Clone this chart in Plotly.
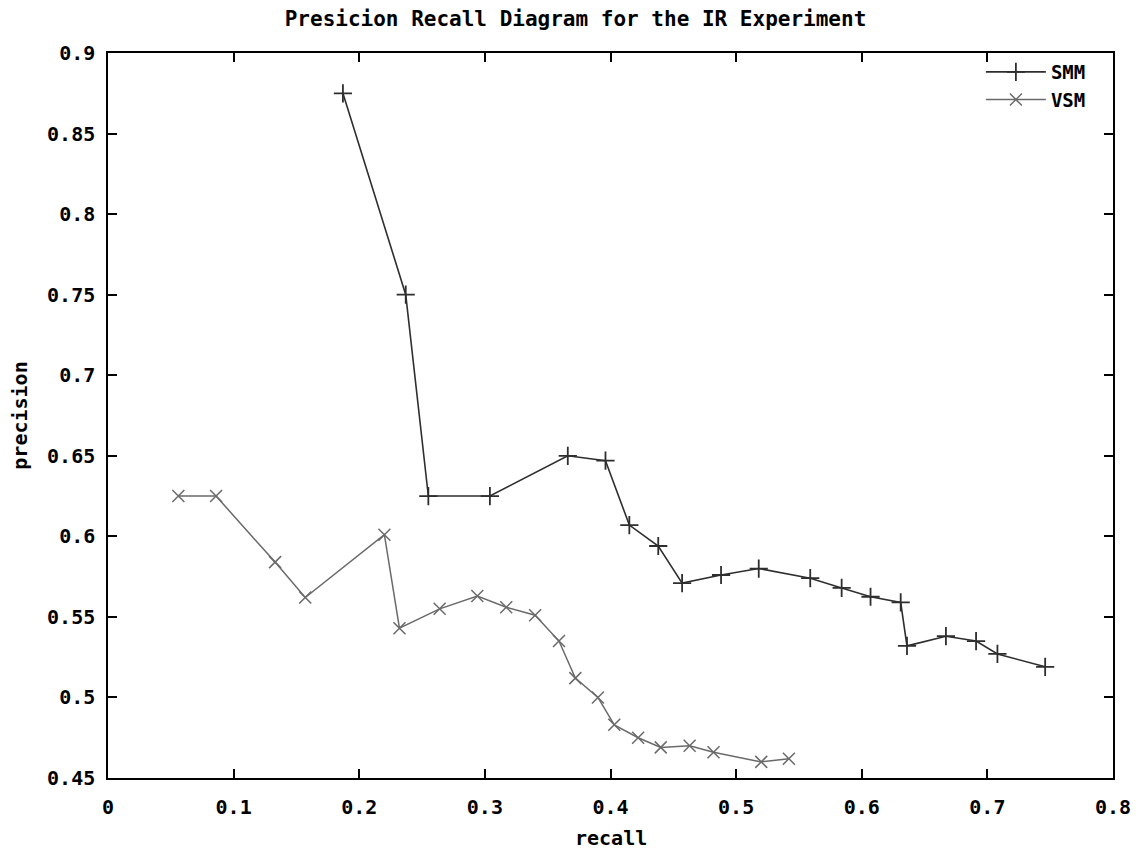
import plotly.graph_objects as go

# Data
smm_recall = [0.187, 0.237, 0.255, 0.304, 0.366, 0.396, 0.415, 0.438, 0.457, 0.488,
              0.518, 0.559, 0.584, 0.607, 0.631, 0.636, 0.667, 0.691, 0.708, 0.746]
smm_precision = [0.875, 0.750, 0.625, 0.625, 0.650, 0.647, 0.607, 0.594, 0.571, 0.576,
                 0.580, 0.574, 0.568, 0.5625, 0.559, 0.532, 0.538, 0.535, 0.527, 0.519]

vsm_recall = [0.056, 0.086, 0.133, 0.157, 0.220, 0.232, 0.264, 0.294, 0.317, 0.340,
              0.359, 0.372, 0.390, 0.403, 0.422, 0.440, 0.463, 0.482, 0.520, 0.542]
vsm_precision = [0.625, 0.625, 0.584, 0.562, 0.601, 0.543, 0.555, 0.563, 0.556, 0.551,
                 0.535, 0.512, 0.500, 0.483, 0.475, 0.469, 0.470, 0.466, 0.460, 0.462]

title_text = "Presicion Recall Diagram for the IR Experiment"
x_label = "recall"
y_label = "precision"

FONT = "DejaVu Sans Mono"

fig = go.Figure()
fig.add_trace(go.Scatter(
    x=smm_recall, y=smm_precision, name="<b>SMM</b>", mode="lines+markers",
    line=dict(color="#2e2e2e", width=1.6),
    marker=dict(symbol="cross-thin", size=13, line=dict(color="#2e2e2e", width=1.8)),
))
fig.add_trace(go.Scatter(
    x=vsm_recall, y=vsm_precision, name="<b>VSM</b>", mode="lines+markers",
    line=dict(color="#6a6a6a", width=1.5),
    marker=dict(symbol="x-thin", size=12, line=dict(color="#6a6a6a", width=1.5)),
))

axis_common = dict(
    showline=True, linecolor="black", linewidth=1.5, mirror="ticks",
    ticks="inside", ticklen=9, tickwidth=1.5, tickcolor="black",
    showgrid=False, zeroline=False, automargin=False,
    tickfont=dict(family=FONT, size=20, color="black", weight="bold"),
)

# The page body adds an 8px margin, so the figure is sized to compensate.
fig.update_layout(
    width=1135, height=842,
    paper_bgcolor="white", plot_bgcolor="white",
    margin=dict(l=100, r=30, t=45, b=72),
    title=dict(text="<b>" + title_text + "</b>", x=0.5, xanchor="center",
               y=1 - 11 / 842, yanchor="middle", yref="container",
               font=dict(family=FONT, size=21, color="black")),
    xaxis=dict(range=[0, 0.8], dtick=0.1, tick0=0,
               ticklabelstandoff=10, **axis_common),
    yaxis=dict(range=[0.45, 0.9], dtick=0.05, tick0=0.45,
               title=dict(text="<b>" + y_label + "</b>", standoff=16,
                          font=dict(family=FONT, size=20, color="black")),
               ticklabelstandoff=7, **axis_common),
    legend=dict(x=0.978, xanchor="right", y=1.0, yanchor="top",
                bgcolor="rgba(0,0,0,0)", itemwidth=60, tracegroupgap=0,
                font=dict(family=FONT, size=19, color="black")),
    showlegend=True,
    annotations=[dict(text="<b>" + x_label + "</b>", xref="paper", yref="paper",
                      x=0.5, y=0, xanchor="center", yanchor="middle", yshift=-60,
                      showarrow=False,
                      font=dict(family=FONT, size=20, color="black"))],
)

fig.write_html("out.html")
